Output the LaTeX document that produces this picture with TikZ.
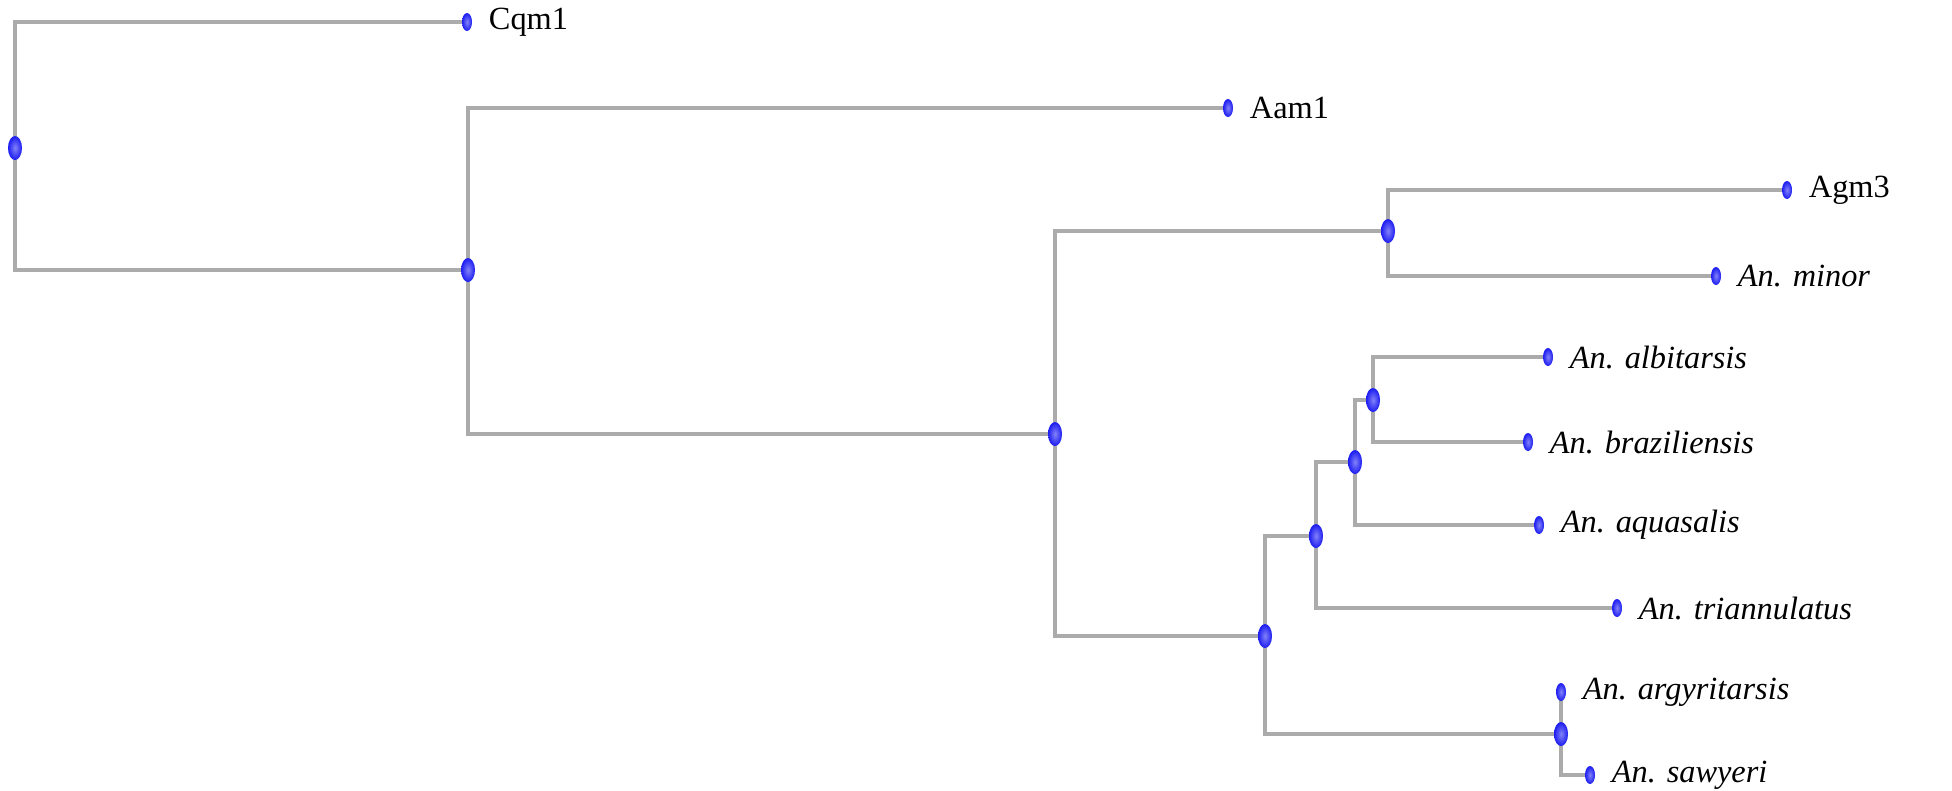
\documentclass[tikz,border=0pt]{standalone}
\usepackage{fontspec}
\setmainfont{Liberation Serif}
\usetikzlibrary{shapes.geometric,positioning,backgrounds}
\definecolor{branch}{HTML}{ABABAB}
\definecolor{dotblue}{HTML}{1C1CF2}

\begin{document}
\begin{tikzpicture}[x=0.01cm,y=-0.01cm,
    inner/.style={ellipse,minimum width=0.14cm,minimum height=0.24cm,inner sep=0pt,
      shading=radial,inner color=dotblue!55!white,outer color=dotblue},
    leaf/.style={inner,minimum width=0.10cm,minimum height=0.18cm},
    taxon/.style={right=1.2mm of #1,inner sep=1pt,font=\fontsize{9.2}{10}\selectfont},
    edge/.style={draw=branch,line width=1.1pt}]
    \useasboundingbox (0,0) rectangle (1952,790);

    % internal nodes
    \node[inner] (root) at (15,148) {};
    \node[inner] (n1) at (468,270) {};
    \node[inner] (n2) at (1055,434) {};
    \node[inner] (n3) at (1388,231) {};
    \node[inner] (n4) at (1265,636) {};
    \node[inner] (n5) at (1316,536) {};
    \node[inner] (n6) at (1355,462) {};
    \node[inner] (n7) at (1373,400) {};
    \node[inner] (n8) at (1561,734) {};

    % leaves
    \node[leaf] (cqm) at (467,22) {};
    \node[leaf] (aam) at (1228,108) {};
    \node[leaf] (agm) at (1787,190) {};
    \node[leaf] (minor) at (1716,276) {};
    \node[leaf] (albi) at (1548,357) {};
    \node[leaf] (braz) at (1528,442) {};
    \node[leaf] (aqua) at (1539,525) {};
    \node[leaf] (tria) at (1617,608) {};
    \node[leaf] (argy) at (1561,692) {};
    \node[leaf] (sawy) at (1590,775) {};

    \node[taxon=cqm] (tcqm) {Cqm1};
    \node[taxon=aam] (taam) {Aam1};
    \node[taxon=agm] (tagm) {Agm3};
    \node[taxon=minor] (tminor) {\textit{An. minor}};
    \node[taxon=albi] (talbi) {\textit{An. albitarsis}};
    \node[taxon=braz] (tbraz) {\textit{An. braziliensis}};
    \node[taxon=aqua] (taqua) {\textit{An. aquasalis}};
    \node[taxon=tria] (ttria) {\textit{An. triannulatus}};
    \node[taxon=argy] (targy) {\textit{An. argyritarsis}};
    \node[taxon=sawy] (tsawy) {\textit{An. sawyeri}};

    \begin{pgfonlayer}{background}
      \draw[edge] (root.center) |- (cqm.center);
      \draw[edge] (root.center) |- (n1.center);
      \draw[edge] (n1.center) |- (aam.center);
      \draw[edge] (n1.center) |- (n2.center);
      \draw[edge] (n2.center) |- (n3.center);
      \draw[edge] (n2.center) |- (n4.center);
      \draw[edge] (n3.center) |- (agm.center);
      \draw[edge] (n3.center) |- (minor.center);
      \draw[edge] (n4.center) |- (n5.center);
      \draw[edge] (n4.center) |- (n8.center);
      \draw[edge] (n5.center) |- (n6.center);
      \draw[edge] (n5.center) |- (tria.center);
      \draw[edge] (n6.center) |- (n7.center);
      \draw[edge] (n6.center) |- (aqua.center);
      \draw[edge] (n7.center) |- (albi.center);
      \draw[edge] (n7.center) |- (braz.center);
      \draw[edge] (n8.center) |- (argy.center);
      \draw[edge] (n8.center) |- (sawy.center);
    \end{pgfonlayer}
\end{tikzpicture}
\end{document}
